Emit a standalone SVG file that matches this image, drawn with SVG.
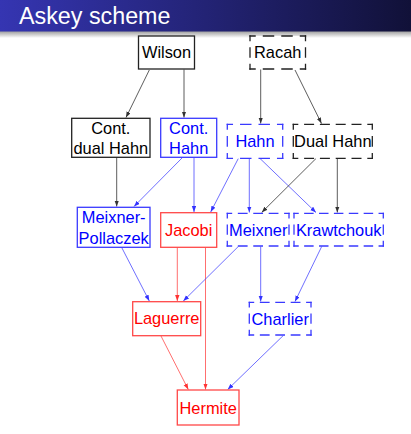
<svg xmlns="http://www.w3.org/2000/svg" width="411" height="434" viewBox="0 0 411 434">
<defs>
<linearGradient id="bar" x1="0" y1="0" x2="1" y2="0">
<stop offset="0" stop-color="#3535b2"/>
<stop offset="1" stop-color="#111138"/>
</linearGradient>
<linearGradient id="shadow" x1="0" y1="0" x2="0" y2="1">
<stop offset="0" stop-color="#9a9a9a"/>
<stop offset="1" stop-color="#ffffff"/>
</linearGradient>
<marker id="ak" markerUnits="userSpaceOnUse" markerWidth="7" markerHeight="5" refX="6" refY="2.2" orient="auto"><path d="M0,0 L6,2.2 L0,4.4 z" fill="#333"/></marker>
<marker id="ab" markerUnits="userSpaceOnUse" markerWidth="7" markerHeight="5" refX="6" refY="2.2" orient="auto"><path d="M0,0 L6,2.2 L0,4.4 z" fill="#3333ff"/></marker>
<marker id="ar" markerUnits="userSpaceOnUse" markerWidth="7" markerHeight="5" refX="6" refY="2.2" orient="auto"><path d="M0,0 L6,2.2 L0,4.4 z" fill="#ff3333"/></marker>
</defs>
<style>
text{font-family:"Liberation Sans",Arial,sans-serif;font-size:16.4px;text-anchor:middle}
.box{fill:#fff;stroke-width:1.3}
.bg{fill:#fff;stroke:none}
.k{stroke:#222}
.b{stroke:#3a3aff}
.r{stroke:#ff4848}
.d{stroke-width:1.3;stroke-dasharray:0.55 0.45;stroke-dashoffset:0.275;stroke-linecap:square}
.tk{fill:#000}
.tb{fill:#0000ff}
.tr{fill:#ff0000}
.ek{stroke:#333;stroke-width:0.8;fill:none;marker-end:url(#ak)}
.eb{stroke:#4a4aff;stroke-width:0.8;fill:none;marker-end:url(#ab)}
.er{stroke:#ff4a4a;stroke-width:0.8;fill:none;marker-end:url(#ar)}
</style>
<rect x="0" y="0" width="411" height="434" fill="#fff"/>
<rect x="0" y="31" width="411" height="7" fill="url(#shadow)"/>
<rect x="0" y="0" width="411" height="31.5" fill="url(#bar)"/>
<text x="19" y="24" style="text-anchor:start;font-size:23.3px" fill="#fff">Askey scheme</text>
<g id="connectors">
<line class="ek" x1="149.3" y1="70" x2="126" y2="117.5"/>
<line class="ek" x1="184" y1="69.5" x2="184" y2="117.5"/>
<line class="ek" x1="260.7" y1="69.5" x2="260.7" y2="123.5"/>
<line class="ek" x1="295" y1="70" x2="321.5" y2="123.5"/>
<line class="ek" x1="116.7" y1="157.5" x2="116.7" y2="206.5"/>
<line class="eb" x1="182" y1="158" x2="134" y2="206.5"/>
<line class="eb" x1="194" y1="157.5" x2="194" y2="212"/>
<line class="eb" x1="238.3" y1="158.5" x2="210.7" y2="212"/>
<line class="eb" x1="249.3" y1="158.5" x2="249.3" y2="212.5"/>
<line class="eb" x1="260" y1="158.5" x2="316" y2="212.5"/>
<line class="ek" x1="316" y1="158.5" x2="261.7" y2="212.5"/>
<line class="ek" x1="337.3" y1="158.5" x2="337.3" y2="212.5"/>
<line class="eb" x1="121.7" y1="247.5" x2="149.3" y2="301"/>
<line class="er" x1="177.3" y1="247.5" x2="177.3" y2="301"/>
<line class="er" x1="205.5" y1="247.5" x2="205.5" y2="389.5"/>
<line class="eb" x1="238.3" y1="246.5" x2="183.3" y2="301"/>
<line class="eb" x1="260.7" y1="246.5" x2="260.7" y2="301.5"/>
<line class="eb" x1="321.7" y1="246.5" x2="295" y2="301.5"/>
<line class="er" x1="161" y1="336" x2="188.3" y2="389.5"/>
<line class="eb" x1="283.3" y1="335.5" x2="227.7" y2="389.5"/>
</g>
<g id="wilson"><rect class="box k" x="138.5" y="36" width="56" height="33"/><text class="tk" x="166.5" y="58">Wilson</text></g>
<g id="racah"><rect class="bg" x="250" y="36" width="55.5" height="33"/>
<line class="d k" x1="250" y1="36" x2="305.5" y2="36" pathLength="3"/><line class="d k" x1="250" y1="69" x2="305.5" y2="69" pathLength="3"/>
<line class="d k" x1="250" y1="36" x2="250" y2="69" pathLength="2"/><line class="d k" x1="305.5" y1="36" x2="305.5" y2="69" pathLength="2"/>
<text class="tk" x="277.7" y="58">Racah</text></g>
<g id="cont-dual-hahn"><rect class="box k" x="71.7" y="118.3" width="78.3" height="39"/><text class="tk" x="110.8" y="134.3">Cont.</text><text class="tk" x="110.8" y="153.5">dual Hahn</text></g>
<g id="cont-hahn"><rect class="box b" x="160.7" y="118.3" width="56" height="39"/><text class="tb" x="188.7" y="134.3">Cont.</text><text class="tb" x="188.7" y="153.5">Hahn</text></g>
<g id="hahn"><rect class="bg" x="227.3" y="124.3" width="55.4" height="34"/>
<line class="d b" x1="227.3" y1="124.3" x2="282.7" y2="124.3" pathLength="3"/><line class="d b" x1="227.3" y1="158.3" x2="282.7" y2="158.3" pathLength="3"/>
<line class="d b" x1="227.3" y1="124.3" x2="227.3" y2="158.3" pathLength="2"/><line class="d b" x1="282.7" y1="124.3" x2="282.7" y2="158.3" pathLength="2"/>
<text class="tb" x="255" y="146.5">Hahn</text></g>
<g id="dual-hahn"><rect class="bg" x="293.3" y="124.3" width="79" height="34"/>
<line class="d k" x1="293.3" y1="124.3" x2="372.3" y2="124.3" pathLength="5"/><line class="d k" x1="293.3" y1="158.3" x2="372.3" y2="158.3" pathLength="5"/>
<line class="d k" x1="293.3" y1="124.3" x2="293.3" y2="158.3" pathLength="2"/><line class="d k" x1="372.3" y1="124.3" x2="372.3" y2="158.3" pathLength="2"/>
<text class="tk" x="332.8" y="146.5">Dual Hahn</text></g>
<g id="meixner-pollaczek"><rect class="box b" x="77.3" y="207.3" width="72.7" height="40"/><text class="tb" x="113.7" y="222.5">Meixner-</text><text class="tb" x="113.7" y="243.5">Pollaczek</text></g>
<g id="jacobi"><rect class="box r" x="160.7" y="212.7" width="56" height="34.6"/><text class="tr" x="188.7" y="235.8">Jacobi</text></g>
<g id="meixner"><rect class="bg" x="227.3" y="213.3" width="61.7" height="32.7"/>
<line class="d b" x1="227.3" y1="213.3" x2="289" y2="213.3" pathLength="4"/><line class="d b" x1="227.3" y1="246" x2="289" y2="246" pathLength="4"/>
<line class="d b" x1="227.3" y1="213.3" x2="227.3" y2="246" pathLength="2"/><line class="d b" x1="289" y1="213.3" x2="289" y2="246" pathLength="2"/>
<text class="tb" x="258.2" y="235.5">Meixner</text></g>
<g id="krawtchouk"><rect class="bg" x="294" y="213.3" width="89.3" height="32.7"/>
<line class="d b" x1="294" y1="213.3" x2="383.3" y2="213.3" pathLength="6"/><line class="d b" x1="294" y1="246" x2="383.3" y2="246" pathLength="6"/>
<line class="d b" x1="294" y1="213.3" x2="294" y2="246" pathLength="2"/><line class="d b" x1="383.3" y1="213.3" x2="383.3" y2="246" pathLength="2"/>
<text class="tb" x="338.7" y="235.5">Krawtchouk</text></g>
<g id="laguerre"><rect class="box r" x="132.7" y="301.7" width="68" height="34"/><text class="tr" x="166.7" y="324">Laguerre</text></g>
<g id="charlier"><rect class="bg" x="249.3" y="302.3" width="61.7" height="32.7"/>
<line class="d b" x1="249.3" y1="302.3" x2="311" y2="302.3" pathLength="4"/><line class="d b" x1="249.3" y1="335" x2="311" y2="335" pathLength="4"/>
<line class="d b" x1="249.3" y1="302.3" x2="249.3" y2="335" pathLength="2"/><line class="d b" x1="311" y1="302.3" x2="311" y2="335" pathLength="2"/>
<text class="tb" x="280.2" y="324.8">Charlier</text></g>
<g id="hermite"><rect class="box r" x="177.3" y="390" width="61.7" height="35"/><text class="tr" x="208.2" y="413.5">Hermite</text></g>
</svg>
